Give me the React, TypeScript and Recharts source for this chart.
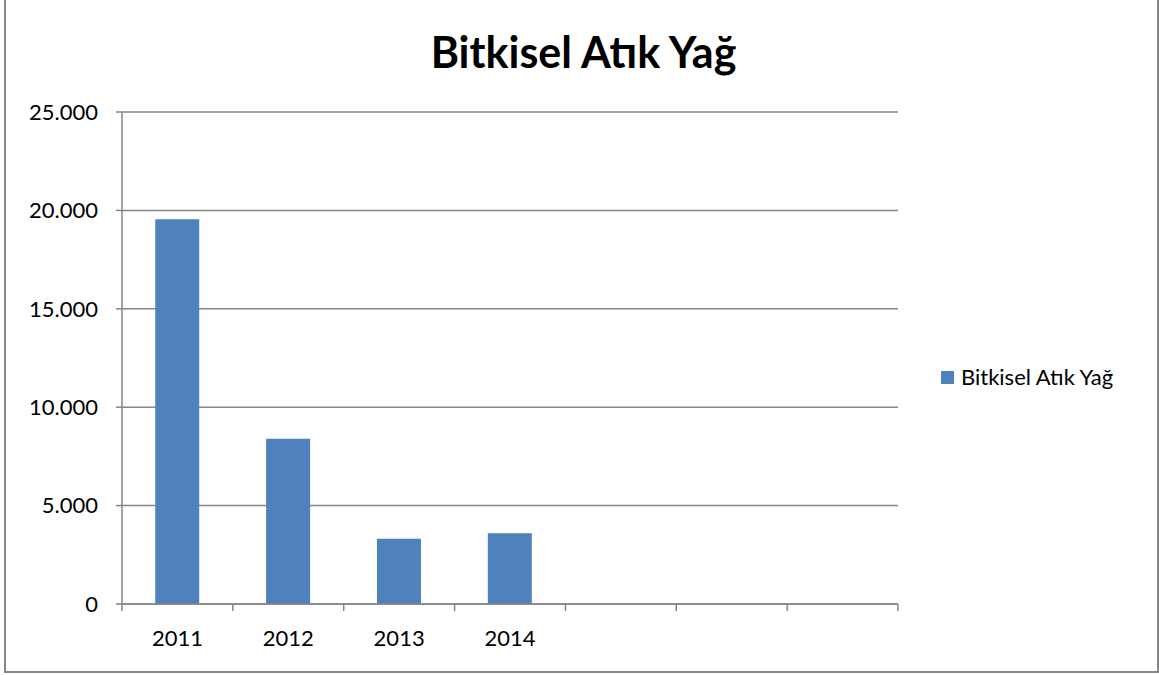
import React from 'react';
import { BarChart, Bar, XAxis, YAxis, CartesianGrid } from 'recharts';

const categories = ['2011', '2012', '2013', '2014', '', '', ''];
const values: (number | null)[] = [19550, 8400, 3320, 3600, null, null, null];
const yTicks = [0, 5000, 10000, 15000, 20000, 25000];
const seriesName = 'Bitkisel Atık Yağ';
const title = 'Bitkisel Atık Yağ';

const data = categories.map((c, i) => ({ year: c, value: values[i] }));

const FONT = 'Lato, "Open Sans", sans-serif';
const AXIS_COLOR = '#868686';
const BAR_COLOR = '#4F81BD';

const fmt = (v: number) => v.toLocaleString('de-DE');

const XTick = (props: any) => {
  const { x, y, payload, index } = props;
  const half = payload && payload.offset ? payload.offset : 55.4;
  const isLast = index === categories.length - 1;
  return (
    <g>
      <line x1={x - half} x2={x - half} y1={y - 8} y2={y - 1} stroke={AXIS_COLOR} strokeWidth={1.5} />
      {isLast && (
        <line x1={x + half} x2={x + half} y1={y - 8} y2={y - 1} stroke={AXIS_COLOR} strokeWidth={1.5} />
      )}
      <text x={x} y={y + 34} textAnchor="middle" fontFamily={FONT} fontSize={22} fill="#000">
        {payload.value}
      </text>
    </g>
  );
};

export default function App() {
  return (
    <div style={{ position: 'absolute', left: 0, top: 0, width: 1159, height: 675, background: '#fff', overflow: 'hidden' }}>
      <div
        style={{
          position: 'absolute',
          left: 4,
          top: -3,
          width: 1151,
          height: 672,
          border: `2px solid ${AXIS_COLOR}`,
        }}
      />
      <div
        style={{
          position: 'absolute',
          left: 0,
          width: 1167,
          top: 24,
          textAlign: 'center',
          fontFamily: FONT,
          fontWeight: 700,
          fontSize: 43,
          color: '#000',
          lineHeight: '56px',
        }}
      >
        {title}
      </div>
      <div
        style={{
          position: 'absolute',
          left: 941,
          top: 362,
          display: 'flex',
          alignItems: 'center',
          fontFamily: FONT,
          fontSize: 22,
          color: '#000',
          lineHeight: '30px',
        }}
      >
        <span style={{ display: 'inline-block', width: 13, height: 13, background: BAR_COLOR, marginRight: 7 }} />
        <span>{seriesName}</span>
      </div>
      <div style={{ position: 'absolute', left: 0, top: 0 }}>
        <BarChart
          width={1159}
          height={675}
          data={data}
          margin={{ top: 112, right: 261, bottom: 31, left: 0 }}
          barCategoryGap="30%"
        >
          <CartesianGrid vertical={false} stroke={AXIS_COLOR} strokeWidth={1.5} />
          <XAxis
            dataKey="year"
            height={40}
            axisLine={{ stroke: AXIS_COLOR, strokeWidth: 1.5 }}
            tickLine={false}
            tick={<XTick />}
            interval={0}
          />
          <YAxis
            width={122}
            domain={[0, 25000]}
            ticks={yTicks}
            interval={0}
            tickFormatter={fmt}
            axisLine={{ stroke: AXIS_COLOR, strokeWidth: 1.5 }}
            tickLine={{ stroke: AXIS_COLOR, strokeWidth: 1.5 }}
            tickSize={6}
            tickMargin={18}
            tick={{ fontFamily: FONT, fontSize: 22, fill: '#000' }}
          />
          <Bar dataKey="value" name={seriesName} fill={BAR_COLOR} isAnimationActive={false} />
        </BarChart>
      </div>
    </div>
  );
}
